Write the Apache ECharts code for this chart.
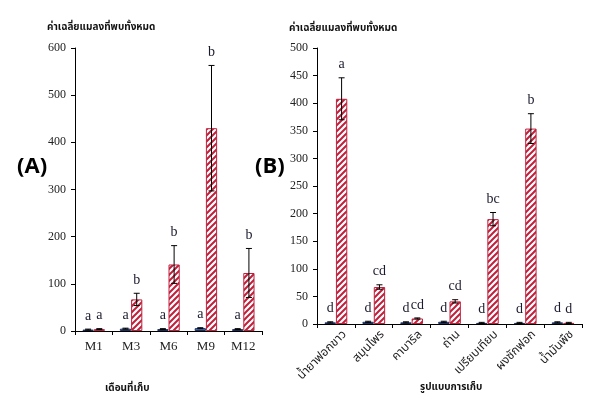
<!DOCTYPE html>
<html>
<head>
<meta charset="utf-8">
<script src="https://cdn.jsdelivr.net/npm/echarts@6/dist/echarts.min.js"></script>
<style>
  html, body { margin: 0; padding: 0; background: #fff; }
  #chart { width: 600px; height: 406px; }
</style>
</head>
<body>
<div id="chart"></div>
<script>
// (A) by collection month
const monthCats = ['M1', 'M3', 'M6', 'M9', 'M12'];
const monthControl = [3, 5, 4, 6, 4];
const monthControlErr = [1, 1, 1, 1, 1];
const monthTreated = [4, 67, 141, 430, 123];
const monthTreatedErr = [1, 13, 40, 133, 52];
const monthControlLetters = ['a', 'a', 'a', 'a', 'a'];
const monthTreatedLetters = ['a', 'b', 'b', 'b', 'b'];

// (B) by collection method
const methodCats = ['น้ำยาฟอกขาว', 'สมุนไพร', 'คาบาริล', 'ถ่าน', 'เปรียบเทียบ', 'ผงซักฟอก', 'น้ำมันพืช'];
const methodControl = [3, 4, 3, 4, 2, 2, 3];
const methodControlErr = [1, 1, 1, 1, 1, 1, 1];
const methodTreated = [408, 67, 10, 41, 190, 354, 2];
const methodTreatedErr = [38, 4, 1, 3, 12, 27, 1];
const methodControlLetters = ['d', 'd', 'd', 'd', 'd', 'd', 'd'];
const methodTreatedLetters = ['a', 'cd', 'cd', 'cd', 'bc', 'b', 'd'];

const yTitle = 'ค่าเฉลี่ยแมลงที่พบทั้งหมด';
const SERIF = '"Liberation Serif", "Times New Roman", serif';
const THAI = '"Noto Sans Thai", "Noto Sans", "DejaVu Sans", sans-serif';
const RED = '#c0203c';
const BLUE = '#4472c4';

function hatch() {
  const c = document.createElement('canvas');
  c.width = 6; c.height = 6;
  const ctx = c.getContext('2d');
  ctx.fillStyle = '#fff';
  ctx.fillRect(0, 0, 6, 6);
  ctx.strokeStyle = RED;
  ctx.lineWidth = 2;
  ctx.beginPath();
  ctx.moveTo(-1, 7); ctx.lineTo(7, -1);
  ctx.moveTo(-4, 4); ctx.lineTo(4, -4);
  ctx.moveTo(2, 10); ctx.lineTo(10, 2);
  ctx.stroke();
  return c;
}
const hatchPattern = { image: hatch(), repeat: 'repeat' };

function xAxis(gridIndex, data, rotated) {
  const label = rotated
    ? { fontFamily: THAI, fontSize: 12, rotate: 45, margin: 0, verticalAlign: 'top', lineHeight: 26 }
    : { fontFamily: SERIF, fontSize: 13, margin: 9 };
  return {
    type: 'category', gridIndex, data,
    axisLine: { lineStyle: { color: '#000', width: 1 } },
    axisTick: { show: true, length: 4, lineStyle: { color: '#000' } },
    axisLabel: Object.assign({ color: '#222', interval: 0 }, label)
  };
}

function yAxis(gridIndex, max, interval) {
  return {
    type: 'value', gridIndex, min: 0, max, interval,
    axisLine: { show: true, lineStyle: { color: '#000', width: 1 } },
    axisTick: { show: true, length: 4, lineStyle: { color: '#000' } },
    splitLine: { show: false },
    axisLabel: { color: '#222', fontFamily: SERIF, fontSize: 12, margin: 9 }
  };
}

function bars(idx, values, isTreated) {
  return {
    type: 'bar', xAxisIndex: idx, yAxisIndex: idx,
    data: values, barWidth: '30%', barGap: '0%',
    itemStyle: isTreated
      ? { color: hatchPattern, borderColor: RED, borderWidth: 1 }
      : { color: BLUE, borderColor: '#1c2f5a', borderWidth: 1 },
    silent: true
  };
}

// error bars plus significance letters, offset to one side of the category
function errors(idx, values, errs, letters, side) {
  return {
    type: 'custom', xAxisIndex: idx, yAxisIndex: idx,
    data: values.map((v, i) => [i, v, errs[i]]),
    silent: true, z: 5,
    renderItem: (params, api) => {
      const i = api.value(0), v = api.value(1), e = api.value(2);
      const band = api.size([1, 0])[0];
      const x = api.coord([i, v])[0] + band * 0.15 * side;
      const top = api.coord([i, v + e])[1];
      const bot = api.coord([i, Math.max(v - e, 0)])[1];
      const line = { stroke: '#000', lineWidth: 1 };
      return {
        type: 'group',
        children: [
          { type: 'line', shape: { x1: x, y1: top, x2: x, y2: bot }, style: line },
          { type: 'line', shape: { x1: x - 3, y1: top, x2: x + 3, y2: top }, style: line },
          { type: 'line', shape: { x1: x - 3, y1: bot, x2: x + 3, y2: bot }, style: line },
          {
            type: 'text',
            style: {
              text: letters[params.dataIndex], x, y: top - 6,
              align: 'center', verticalAlign: 'bottom',
              font: '14px ' + SERIF, fill: '#1a1a2e'
            }
          }
        ]
      };
    }
  };
}

const chart = echarts.init(document.getElementById('chart'), null, { renderer: 'canvas' });
chart.setOption({
  animation: false,
  backgroundColor: '#fff',
  grid: [
    { left: 75, top: 48, width: 187, height: 283 },
    { left: 317, top: 48, width: 265, height: 276 }
  ],
  xAxis: [xAxis(0, monthCats, false), xAxis(1, methodCats, true)],
  yAxis: [yAxis(0, 600, 100), yAxis(1, 500, 50)],
  series: [
    bars(0, monthControl, false),
    bars(0, monthTreated, true),
    errors(0, monthControl, monthControlErr, monthControlLetters, -1),
    errors(0, monthTreated, monthTreatedErr, monthTreatedLetters, 1),
    bars(1, methodControl, false),
    bars(1, methodTreated, true),
    errors(1, methodControl, methodControlErr, methodControlLetters, -1),
    errors(1, methodTreated, methodTreatedErr, methodTreatedLetters, 1)
  ],
  graphic: [
    { type: 'text', left: 47, top: 23, style: { text: yTitle, font: 'bold 10px ' + THAI, fill: '#111' } },
    { type: 'text', left: 289, top: 24, style: { text: yTitle, font: 'bold 10px ' + THAI, fill: '#111' } },
    { type: 'text', left: 105, top: 384, style: { text: 'เดือนที่เก็บ', font: 'bold 10px ' + THAI, fill: '#111' } },
    { type: 'text', left: 420, top: 383, style: { text: 'รูปแบบการเก็บ', font: 'bold 10px ' + THAI, fill: '#111' } },
    { type: 'text', left: 17, top: 156, style: { text: '(A)', font: 'bold 22px "Open Sans", "Liberation Sans", sans-serif', fill: '#000' } },
    { type: 'text', left: 255, top: 156, style: { text: '(B)', font: 'bold 22px "Open Sans", "Liberation Sans", sans-serif', fill: '#000' } }
  ]
});
</script>
</body>
</html>
